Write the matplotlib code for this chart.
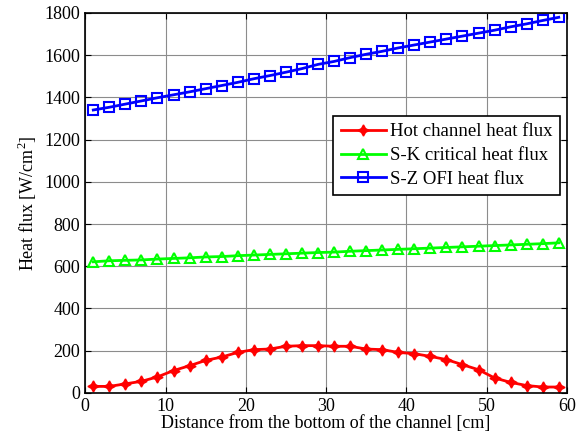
import matplotlib
matplotlib.use("Agg")
import matplotlib.pyplot as plt

plt.rcParams['font.family'] = ['Liberation Serif', 'DejaVu Serif']
plt.rcParams['mathtext.fontset'] = 'custom'
plt.rcParams['mathtext.rm'] = 'Liberation Serif'

# distance from bottom of channel [cm]
x = [1, 3, 5, 7, 9, 11, 13, 15, 17, 19, 21, 23, 25, 27, 29,
     31, 33, 35, 37, 39, 41, 43, 45, 47, 49, 51, 53, 55, 57, 59]

hot = [31, 31, 43, 55, 76, 106, 129, 154, 170, 192, 205, 208, 221, 224, 224,
       221, 221, 208, 205, 192, 186, 173, 158, 134, 110, 71, 50, 35, 28, 28]

sk_chf = [621, 626, 628, 630, 634, 637, 640, 644, 646, 650, 653, 656, 659, 662, 665,
          667, 671, 674, 677, 680, 683, 686, 689, 692, 695, 698, 701, 704, 707, 711]

sz_ofi = [1340, 1353, 1368, 1383, 1398, 1412, 1426, 1441, 1456, 1471, 1488, 1503, 1519, 1536, 1556,
          1570, 1588, 1604, 1618, 1634, 1648, 1662, 1676, 1690, 1704, 1718, 1734, 1748, 1764, 1779]

fig = plt.figure(figsize=(5.76, 4.44), dpi=100)
ax = fig.add_axes([0.148, 0.115, 0.836, 0.856])

ax.plot(x, hot, color='red', lw=2, marker=(4, 1, 0), ms=8, label='Hot channel heat flux')
ax.plot(x, sk_chf, color='#00ff00', lw=2, marker='^', ms=7.5, mfc='none', mew=1.5,
        label='S-K critical heat flux')
ax.plot(x, sz_ofi, color='blue', lw=2, marker='s', ms=6.5, mfc='none', mew=1.5,
        label='S-Z OFI heat flux')

ax.set_xlim(0, 60)
ax.set_ylim(0, 1800)
ax.set_xticks(range(0, 61, 10))
ax.set_yticks(range(0, 1801, 200))
ax.grid(True, color='#8c8c8c', lw=0.8)
ax.tick_params(direction='in', top=True, right=True, labelsize=13, length=4)
for s in ax.spines.values():
    s.set_linewidth(1.2)

ax.set_xlabel('Distance from the bottom of the channel [cm]', fontsize=13, labelpad=0)
ax.set_ylabel('Heat flux [W/cm$^2$]', fontsize=13, labelpad=4)

leg = ax.legend(loc='upper right', bbox_to_anchor=(0.985, 0.729), borderaxespad=0,
                fontsize=13.5, fancybox=False, framealpha=1, edgecolor='black',
                handlelength=2.4, borderpad=0.4, labelspacing=0.35, handletextpad=0.2)
leg.get_frame().set_linewidth(1.2)

fig.savefig('out.png', dpi=100)
